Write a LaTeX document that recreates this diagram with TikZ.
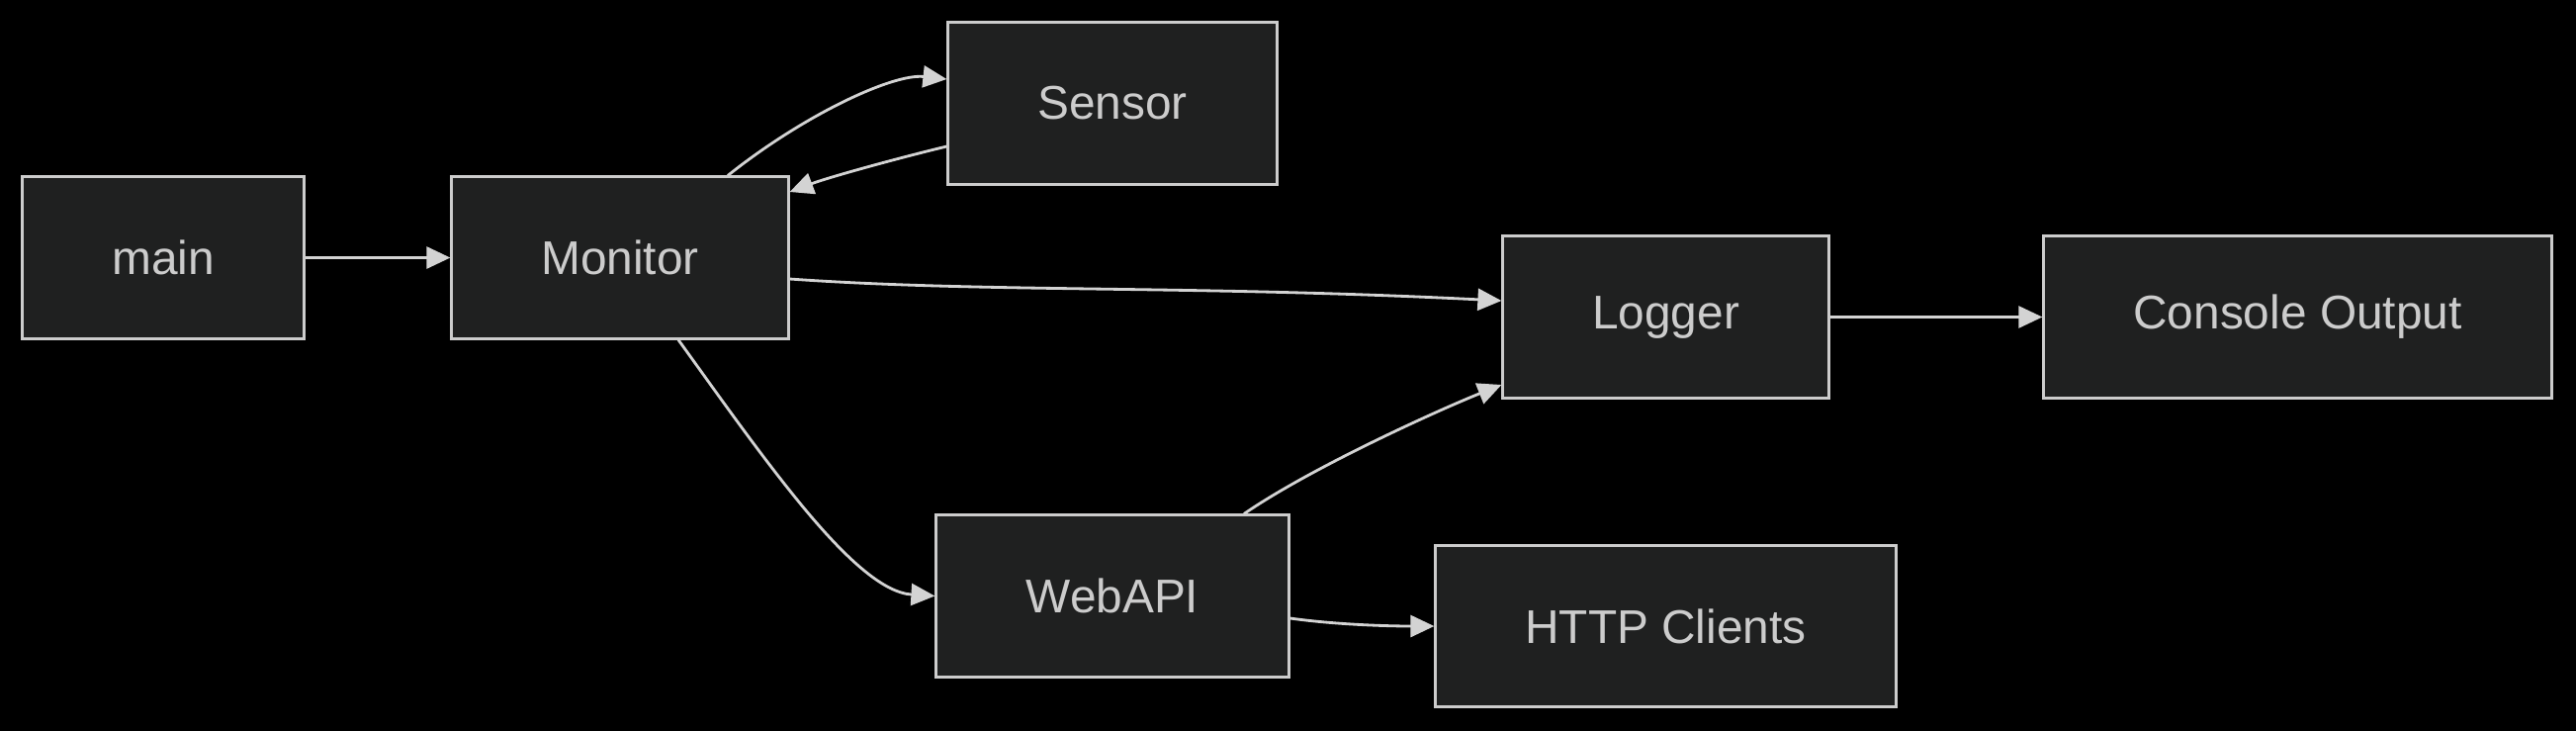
\documentclass[tikz,border=0pt]{standalone}
\usepackage{fontspec}
\setmainfont{Liberation Sans}
\usepackage{tikz}
\usetikzlibrary{arrows.meta,calc}
\definecolor{boxfill}{HTML}{1F2020}
\definecolor{boxline}{HTML}{CCCCCC}
\definecolor{edgeline}{HTML}{D3D3D3}

\begin{document}
\begin{tikzpicture}[x=0.01cm,y=-0.01cm,>={Triangle[length=0.24cm,width=0.22cm]},
  box/.style={draw=boxline,fill=boxfill,line width=0.85pt,text=boxline,
    minimum height=1.63cm,inner sep=0pt,font=\fontsize{13.6}{16}\selectfont},
  edge/.style={->,draw=edgeline,line width=0.8pt}]
\useasboundingbox (0,0) rectangle (2605,738);
\fill[black] (-10,-10) rectangle (2615,750);
% nodes
\node[box,minimum width=2.84cm] (main) at (165,260.5) {main};
\node[box,minimum width=3.40cm] (Monitor) at (627,260.5) {Monitor};
\node[box,minimum width=3.32cm] (Sensor) at (1125,104.5) {Sensor};
\node[box,minimum width=3.29cm] (Logger) at (1684.5,320.5) {Logger};
\node[box,minimum width=5.13cm] (Console) at (2323.5,320.5) {Console Output};
\node[box,minimum width=3.56cm] (WebAPI) at (1125,602.5) {WebAPI};
\node[box,minimum width=4.65cm] (HTTP) at (1684.5,633) {HTTP Clients};
% edges
\draw[edge] (main) -- (Monitor);
\draw[edge] ($(Monitor.north)+(109,0)$) .. controls +(75,-60) and +(-55,-6) .. ($(Sensor.west)+(0,-24.5)$);
\draw[edge] ($(Sensor.west)+(0,43.5)$) .. controls +(-50,12) and +(40,-15) .. ($(Monitor.east)+(0,-66.5)$);
\draw[edge] ($(Monitor.east)+(0,21.5)$) .. controls +(200,14) and +(-320,-16) .. ($(Logger.west)+(0,-16.5)$);
\draw[edge] ($(Monitor.south)+(59,0)$) .. controls +(90,125) and +(-80,-5) .. (WebAPI.west);
\draw[edge] ($(WebAPI.north)+(133,0)$) .. controls +(70,-48) and +(-60,24) .. ($(Logger.west)+(0,68.5)$);
\draw[edge] ($(WebAPI.east)+(0,22.5)$) .. controls +(50,7) and +(-40,0) .. (HTTP.west);
\draw[edge] (Logger) -- (Console);
\end{tikzpicture}
\end{document}
